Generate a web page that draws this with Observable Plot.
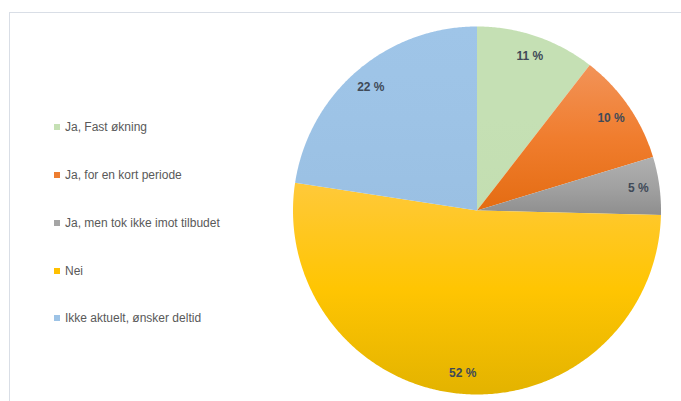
<!DOCTYPE html>
<html>
<head>
<meta charset="utf-8">
<script src="https://cdn.jsdelivr.net/npm/d3@7"></script>
<script src="https://cdn.jsdelivr.net/npm/@observablehq/plot@0.6"></script>
<style>
  html, body { margin: 0; padding: 0; background: #fff; }
  #wrap { position: relative; width: 681px; height: 401px; overflow: hidden; }
  #frame { position: absolute; left: 9px; top: 12px; right: 0; bottom: -5px;
           border-top: 1px solid #D9DEE6; border-left: 1px solid #D9DEE6; }
  #chart { position: absolute; left: 0; top: 0; }
  #legend { position: absolute; left: 54px; top: 103.6px;
            font-family: "Liberation Sans", Arial, sans-serif; font-size: 12px; color: #595959; }
  .item { height: 47.75px; display: flex; align-items: center; white-space: nowrap; }
  .sw { width: 6px; height: 6px; margin-right: 5px; flex: none; }
</style>
</head>
<body>
<div id="wrap">
  <div id="frame"></div>
  <div id="chart"></div>
  <div id="legend"></div>
</div>
<script>
const categories = ["Ja, Fast økning", "Ja, for en kort periode", "Ja, men tok ikke imot tilbudet", "Nei", "Ikke aktuelt, ønsker deltid"];
const values = [10.5, 9.8, 5.1, 52.0, 22.6];
const labels = ["11 %", "10 %", "5 %", "52 %", "22 %"];
const swatchColors = ["#C5E0B4", "#ED7D31", "#A5A5A5", "#FFC000", "#9DC3E6"];
const gradientStops = [
  ["#C5E0B4", "#C5E0B4", "#C3DEB1"],
  ["#F29358", "#F07D2E", "#E46C12"],
  ["#B0B0B0", "#A2A2A2", "#8E8E8E"],
  ["#FFC93A", "#FFC502", "#E3B300"],
  ["#9FC5E8", "#9DC3E6", "#9AC0E3"]
];

const cx = 476.5, cy = 210, r = 184;

const arcs = d3.pie().sort(null).value(d => d)(values);
const slices = arcs.map((a, i) => {
  const pts = [{k: i, x: 0, y: 0}];
  const n = Math.max(8, Math.ceil((a.endAngle - a.startAngle) / (Math.PI / 360)));
  for (let j = 0; j <= n; j++) {
    const t = a.startAngle + (a.endAngle - a.startAngle) * j / n;
    pts.push({k: i, x: Math.sin(t), y: Math.cos(t)});
  }
  pts.push({k: i, x: 0, y: 0});
  return pts;
});
const labelData = arcs.map((a, i) => {
  const m = (a.startAngle + a.endAngle) / 2;
  return {text: labels[i], x: 0.885 * Math.sin(m), y: 0.885 * Math.cos(m)};
});

const svg = Plot.plot({
  width: 681,
  height: 401,
  margin: 0,
  style: {background: "transparent", overflow: "visible"},
  x: {domain: [-1, 1], range: [cx - r, cx + r], axis: null},
  y: {domain: [-1, 1], range: [cy + r, cy - r], axis: null},
  marks: [
    ...slices.map((pts, i) => Plot.line(pts, {x: "x", y: "y", fill: `url(#grad${i})`, stroke: "none", curve: "linear"})),
    Plot.text(labelData, {x: "x", y: "y", text: "text", fontWeight: "bold", fontSize: 12,
      fontFamily: "Liberation Sans, Arial, sans-serif", fill: "#404A58"})
  ]
});

const defs = d3.select(svg).insert("defs", ":first-child");
gradientStops.forEach((stops, i) => {
  const g = defs.append("linearGradient").attr("id", `grad${i}`)
    .attr("x1", 0).attr("y1", 0).attr("x2", 0).attr("y2", 1);
  stops.forEach((c, j) => g.append("stop").attr("offset", `${j * 50}%`).attr("stop-color", c));
});

document.getElementById("chart").appendChild(svg);

const legend = d3.select("#legend");
categories.forEach((c, i) => {
  const row = legend.append("div").attr("class", "item");
  row.append("div").attr("class", "sw").style("background", swatchColors[i]);
  row.append("span").text(c);
});
</script>
</body>
</html>
